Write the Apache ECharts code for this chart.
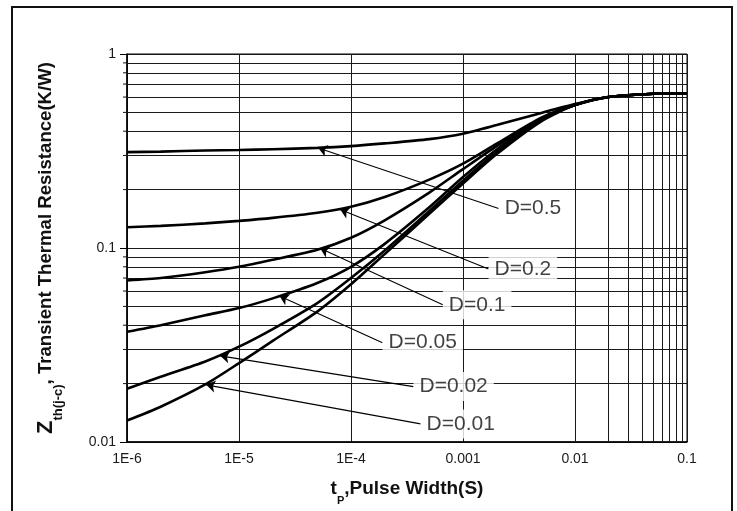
<!DOCTYPE html>
<html>
<head>
<meta charset="utf-8">
<script src="https://cdn.jsdelivr.net/npm/echarts@6/dist/echarts.min.js"></script>
<style>html,body{margin:0;padding:0;background:#fff;}#c{width:737px;height:511px;}</style>
</head>
<body>
<div id="c"></div>
<script>
// ---- data ----
const tp = [1e-6,2e-6,5e-6,1e-5,2e-5,5e-5,1e-4,2e-4,5e-4,1e-3,2e-3,5e-3,1e-2,2e-2,5e-2,1e-1];
const zD05  = [0.312,0.314,0.318,0.320,0.323,0.328,0.335,0.346,0.364,0.388,0.430,0.497,0.552,0.600,0.624,0.628];
const zD02  = [0.128,0.130,0.134,0.138,0.143,0.152,0.163,0.183,0.225,0.272,0.345,0.470,0.548,0.600,0.624,0.628];
const zD01  = [0.068,0.070,0.075,0.080,0.087,0.098,0.113,0.139,0.193,0.255,0.335,0.465,0.546,0.600,0.624,0.628];
const zD005 = [0.037,0.040,0.045,0.049,0.055,0.066,0.080,0.105,0.162,0.232,0.322,0.460,0.545,0.600,0.624,0.628];
const zD002 = [0.0188,0.0217,0.0260,0.0310,0.0382,0.0520,0.0700,0.0970,0.155,0.222,0.312,0.455,0.545,0.600,0.624,0.628];
const zD001 = [0.0129,0.0152,0.0198,0.0255,0.0332,0.0470,0.0650,0.0930,0.150,0.215,0.305,0.450,0.545,0.600,0.624,0.628];

const seriesNames = ['D=0.5','D=0.2','D=0.1','D=0.05','D=0.02','D=0.01'];
const seriesValues = [zD05, zD02, zD01, zD005, zD002, zD001];

// annotation arrows: tip on curve -> label anchor (data coordinates)
const arrowTips   = [[5.1e-5,0.328],[8.0e-5,0.158],[5.3e-5,0.0997],[2.3e-5,0.0565],[6.8e-6,0.0278],[5.1e-6,0.0197]];
const labelAnchor = [[2.08e-3,0.160],[1.69e-3,0.078],[6.6e-4,0.0510],[1.91e-4,0.0325],[3.61e-4,0.0193],[4.18e-4,0.0124]];

// axis ticks
const xTickValues = [1e-6,1e-5,1e-4,1e-3,1e-2,1e-1];
const xTickLabels = ['1E-6','1E-5','1E-4','0.001','0.01','0.1'];
const yTickValues = [0.01,0.1,1];
const yTickLabels = ['0.01','0.1','1'];
const minorMultipliers = [2,3,4,5,6,7,8,9];

// ---- build ----
const xMinor = [], yMinor = [];
for (const d of xTickValues.slice(0,-1)) for (const m of minorMultipliers) xMinor.push(d*m);
for (const d of yTickValues.slice(0,-1)) for (const m of minorMultipliers) yMinor.push(d*m);

function lbl(list, vals){ return function(v){ for(let i=0;i<vals.length;i++){ if(Math.abs(Math.log10(v)-Math.log10(vals[i]))<1e-6) return list[i]; } return ''; }; }

const FONT = "'Liberation Sans', Arial, sans-serif";
const chart = echarts.init(document.getElementById('c'), null, {renderer:'canvas'});

const series = [];
// minor grid lines
series.push({
  type:'line', data:[], silent:true, z:1,
  markLine:{
    silent:true, symbol:'none', animation:false,
    label:{show:false},
    lineStyle:{color:'#1a1a1a', width:1, type:'solid'},
    emphasis:{disabled:true},
    data: xMinor.map(v=>({xAxis:v})).concat(yMinor.map(v=>({yAxis:v})))
  }
});
// minor ticks on y axis (outside left)
series.push({
  type:'custom', silent:true, z:2, clip:false,
  data: yMinor.map(v=>[xTickValues[0], v]),
  renderItem:function(params, api){
    const p = api.coord([api.value(0), api.value(1)]);
    return {type:'line', shape:{x1:p[0]-4, y1:p[1], x2:p[0], y2:p[1]}, style:{stroke:'#111', lineWidth:1}};
  }
});
// curves
seriesNames.forEach((n,i)=>{
  series.push({
    name:n, type:'line', smooth:0.25, showSymbol:false, symbol:'none', z:5,
    lineStyle:{color:'#000', width:2.6},
    data: tp.map((t,k)=>[t, seriesValues[i][k]])
  });
});
// annotations
series.push({
  type:'scatter', symbolSize:0.1, z:6, silent:true,
  data: labelAnchor.map((a,i)=>({value:a, name:seriesNames[i]})),
  label:{show:true, position:'right', distance:0, formatter:'{b}', color:'#111',
    fontFamily:FONT, fontSize:21, backgroundColor:'#fff', padding:[4,6,4,6]},
  markLine:{
    silent:true, animation:false, symbol:['arrow','none'], symbolSize:9,
    label:{show:false}, lineStyle:{color:'#000', width:1.1, type:'solid'},
    data: arrowTips.map((t,i)=>[{coord:t},{coord:labelAnchor[i]}])
  }
});

chart.setOption({
  animation:false,
  backgroundColor:'#fff',
  grid:{left:127, right:50, top:54, bottom:67, show:true, borderColor:'#000', borderWidth:1},
  xAxis:{
    type:'log', logBase:10, min:1e-6, max:0.1,
    axisLine:{show:true, onZero:false, lineStyle:{color:'#000', width:1.5}},
    axisTick:{show:false},
    axisLabel:{formatter:lbl(xTickLabels,xTickValues), fontFamily:FONT, fontSize:14, color:'#1a1a1a', margin:10},
    splitLine:{show:true, lineStyle:{color:'#1a1a1a', width:1}},
    minorTick:{show:false}, minorSplitLine:{show:false},
    name:'{t|t}{s|P}{t|,Pulse Width(S)}', nameLocation:'middle', nameGap:35,
    nameTextStyle:{rich:{
      t:{fontFamily:FONT, fontWeight:'bold', fontSize:19, color:'#111', lineHeight:23},
      s:{fontFamily:FONT, fontWeight:'bold', fontSize:11, color:'#111', verticalAlign:'bottom', lineHeight:23, padding:[0,0,-6,0]}
    }}
  },
  yAxis:{
    type:'log', logBase:10, min:0.01, max:1,
    axisLine:{show:true, onZero:false, lineStyle:{color:'#000', width:1.5}},
    axisTick:{show:true, length:7, lineStyle:{color:'#000'}},
    axisLabel:{formatter:lbl(yTickLabels,yTickValues), fontFamily:FONT, fontSize:14, color:'#1a1a1a', margin:11},
    splitLine:{show:true, lineStyle:{color:'#1a1a1a', width:1}},
    name:'{z|Z}{s|th(j-c)}{t|, Transient Thermal Resistance(K/W)}', nameLocation:'middle', nameGap:68, nameRotate:90,
    nameTextStyle:{rich:{
      z:{fontFamily:FONT, fontWeight:'bold', fontSize:22, color:'#111', lineHeight:26},
      s:{fontFamily:FONT, fontWeight:'bold', fontSize:13, color:'#111', verticalAlign:'bottom', lineHeight:26, padding:[0,0,-6,0]},
      t:{fontFamily:FONT, fontWeight:'bold', fontSize:18.6, color:'#111', lineHeight:26}
    }}
  },
  graphic:[{type:'rect', silent:true, z:100, shape:{x:12, y:7, width:720, height:520},
    style:{fill:'none', stroke:'#111', lineWidth:2}}],
  series:series
});
</script>
</body>
</html>
